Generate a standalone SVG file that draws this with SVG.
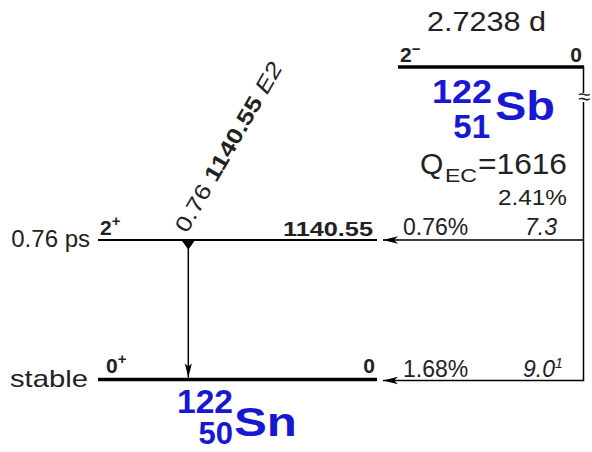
<svg xmlns="http://www.w3.org/2000/svg" width="592" height="452" viewBox="0 0 592 452">
<style>
.t{font-family:"Liberation Sans",Arial,sans-serif;fill:#222}
.b{font-weight:bold}
.i{font-style:italic}
.nuc{font-family:"Liberation Sans",Arial,sans-serif;font-weight:bold;fill:#1818d4}
.lv{stroke:#000;fill:none}
.ln{stroke:#000;stroke-width:1.5;fill:none}
</style>
<defs>
<marker id="dh" markerUnits="userSpaceOnUse" viewBox="-16 -5 17 10" refX="0" refY="0" markerWidth="17" markerHeight="10" orient="auto">
<path d="M0,0 L-15,-3.8 L-11,0 L-15,3.8 Z" fill="#000"/>
</marker>
<marker id="gh" markerUnits="userSpaceOnUse" viewBox="-15 -5 16 10" refX="0" refY="0" markerWidth="16" markerHeight="10" orient="auto">
<path d="M0,0 L-14,-3.5 L-11,0 L-14,3.5 Z" fill="#000"/>
</marker>
</defs>

<g id="parent-Sb122">
<text class="t" x="427" y="31" font-size="28" textLength="119" lengthAdjust="spacingAndGlyphs">2.7238 d</text>
<line class="lv" x1="398" y1="67" x2="584" y2="67" stroke-width="3.5"/>
<text class="t b" x="400" y="62" font-size="21">2<tspan font-size="15" dy="-8">−</tspan></text>
<text class="t b" x="582" y="62" font-size="21" text-anchor="end">0</text>
<text class="nuc" x="432" y="103" font-size="34" textLength="60" lengthAdjust="spacingAndGlyphs">122</text>
<text class="nuc" x="490" y="138" font-size="33" text-anchor="end">51</text>
<text class="nuc" x="495" y="120" font-size="41" textLength="60" lengthAdjust="spacingAndGlyphs">Sb</text>
<text class="t" x="420" y="174" font-size="30">Q</text>
<text class="t" x="445" y="182" font-size="19" textLength="32" lengthAdjust="spacingAndGlyphs">EC</text>
<text class="t" x="478" y="174" font-size="30" textLength="89" lengthAdjust="spacingAndGlyphs">=1616</text>
<text class="t" x="498" y="205" font-size="22" textLength="69" lengthAdjust="spacingAndGlyphs">2.41%</text>
</g>

<g id="level-2plus">
<line class="lv" x1="98" y1="240" x2="377" y2="240" stroke-width="2"/>
<text class="t" x="90" y="247" font-size="24" text-anchor="end">0.76 ps</text>
<text class="t b" x="100" y="235" font-size="21">2<tspan font-size="15" dy="-9">+</tspan></text>
<text class="t b" x="373" y="236" font-size="21" text-anchor="end" textLength="90" lengthAdjust="spacingAndGlyphs">1140.55</text>
<text class="t" x="403" y="235" font-size="23">0.76%</text>
<text class="t i" x="525" y="235" font-size="23">7.3</text>
</g>

<g id="level-ground">
<line class="lv" x1="98" y1="379.5" x2="377" y2="379.5" stroke-width="3.5"/>
<text class="t" x="10" y="387" font-size="24" textLength="78" lengthAdjust="spacingAndGlyphs">stable</text>
<text class="t b" x="106" y="373" font-size="21">0<tspan font-size="15" dy="-9">+</tspan></text>
<text class="t b" x="375" y="373" font-size="21" text-anchor="end">0</text>
<text class="t" x="403" y="377" font-size="23">1.68%</text>
<text class="t i" x="523" y="377" font-size="23">9.0<tspan font-size="14" dy="-9">1</tspan></text>
</g>

<g id="daughter-Sn122">
<text class="nuc" x="177" y="413" font-size="34" textLength="56" lengthAdjust="spacingAndGlyphs">122</text>
<text class="nuc" x="233" y="444" font-size="31" text-anchor="end">50</text>
<text class="nuc" x="234" y="436" font-size="41" textLength="63" lengthAdjust="spacingAndGlyphs">Sn</text>
</g>

<g id="gamma-label" transform="translate(187,234) rotate(-60) scale(1.2,1)">
<text class="t" x="0" y="0" font-size="22">0.76 <tspan class="b">1140.55</tspan> <tspan class="i">E2</tspan></text>
</g>

<g id="connectors">
<path class="ln" d="M583.5,66 V93 M583.5,102 V381.2"/>
<text class="t" x="584" y="104" font-size="22" text-anchor="middle">≈</text>
<line class="ln" x1="583.5" y1="240" x2="383" y2="240" marker-end="url(#dh)"/>
<line class="ln" x1="583.5" y1="380.5" x2="383" y2="380.5" marker-end="url(#dh)"/>
<path d="M181.5,239.5 H195 L188.3,249 Z" fill="#000" stroke="#000" stroke-width="1" stroke-linejoin="round"/>
<line class="ln" x1="188.3" y1="241" x2="188.3" y2="377.5" marker-end="url(#gh)"/>
</g>
</svg>
